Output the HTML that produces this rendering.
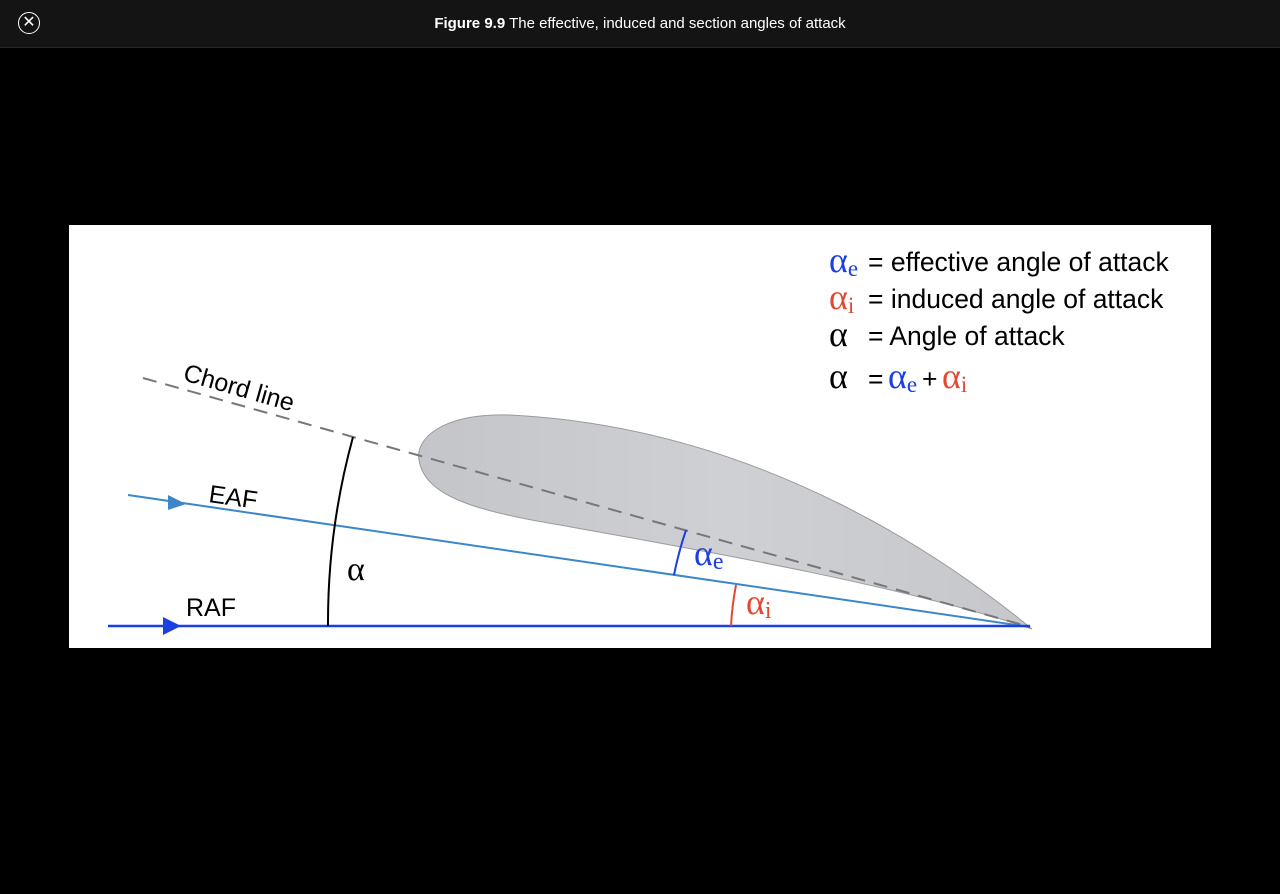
<!DOCTYPE html>
<html><head><meta charset="utf-8"><style>
body{margin:0;width:1280px;height:894px;background:#000;overflow:hidden;font-family:"Liberation Sans",sans-serif}
#bar{position:absolute;left:0;top:0;width:1280px;height:47px;background:#141414;border-bottom:1px solid #262626}
#title{position:absolute;left:0;width:1280px;top:15px;text-align:center;color:#fff;font-size:15px}
#close{position:absolute;left:18px;top:12px;width:20px;height:20px;border:1.5px solid #fff;border-radius:50%;color:#fff;font-size:16px;line-height:20px;text-align:center}
#fig{position:absolute;left:69px;top:225px}
</style></head><body>
<div id="bar">
<div id="close">✕</div>
<div id="title"><b>Figure 9.9</b> The effective, induced and section angles of attack</div>
</div>
<svg id="fig" width="1142" height="423" viewBox="69 225 1142 423">
<defs><linearGradient id="g" x1="0" x2="1"><stop offset="0" stop-color="#c4c5c9"/><stop offset="0.5" stop-color="#cfd0d4"/><stop offset="1" stop-color="#c6c7cb"/></linearGradient></defs>
<rect x="69" y="225" width="1142" height="423" fill="#fff"/>
<path d="M1032,629 C960,570 770,428 510,415 C440,413 415,440 419,460 C425,495 470,510 560,525 C700,550 900,585 1032,629 Z" fill="url(#g)" stroke="#9a9a9e" stroke-width="1"/>
<line x1="143" y1="378" x2="1030" y2="627" stroke="#777" stroke-width="2" stroke-dasharray="14,9"/>
<line x1="128" y1="495" x2="1030" y2="627" stroke="#3b87c8" stroke-width="2"/>
<polygon points="168,495 186,504 168,510" fill="#3b87c8"/>
<line x1="108" y1="626" x2="1030" y2="626" stroke="#1c3fe0" stroke-width="2.5"/>
<polygon points="163,617 181,626 163,635" fill="#1c3fe0"/>
<path d="M328,626 A702,702 0 0 1 353,437" fill="none" stroke="#000" stroke-width="2"/>
<path d="M674,575 A360,360 0 0 1 686,530" fill="none" stroke="#1c3fe0" stroke-width="2"/>
<path d="M731,626 A299,299 0 0 1 736,585" fill="none" stroke="#e04a35" stroke-width="2"/>
<g font-family="Liberation Sans,sans-serif" font-size="25">
<text x="182" y="380" transform="rotate(16 182 380)">Chord line</text>
<text x="208" y="502" transform="rotate(8 208 502)">EAF</text>
<text x="186" y="616">RAF</text>
<text x="347" y="580" font-family="Liberation Serif,serif" font-size="34">α</text>
<text x="694" y="565" fill="#1c3fe0" font-family="Liberation Serif,serif" font-size="36">α<tspan font-size="24" dy="4">e</tspan></text>
<text x="746" y="614" fill="#e04a35" font-family="Liberation Serif,serif" font-size="36">α<tspan font-size="24" dy="4">i</tspan></text>
</g>
<g font-family="Liberation Sans,sans-serif" font-size="26.5">
<text x="829" y="272" fill="#1c3fe0" font-family="Liberation Serif,serif" font-size="36">α<tspan font-size="23" dy="4">e</tspan></text>
<text x="868" y="271">= effective angle of attack</text>
<text x="829" y="309" fill="#e04a35" font-family="Liberation Serif,serif" font-size="36">α<tspan font-size="23" dy="4">i</tspan></text>
<text x="868" y="308">= induced angle of attack</text>
<text x="829" y="346" font-family="Liberation Serif,serif" font-size="36">α</text>
<text x="868" y="345">= Angle of attack</text>
<text x="829" y="388" font-family="Liberation Serif,serif" font-size="36">α</text>
<text x="868" y="388">=</text>
<text x="888" y="388" fill="#1c3fe0" font-family="Liberation Serif,serif" font-size="36">α<tspan font-size="23" dy="4">e</tspan></text>
<text x="922" y="388">+</text>
<text x="942" y="388" fill="#e04a35" font-family="Liberation Serif,serif" font-size="36">α<tspan font-size="23" dy="4">i</tspan></text>
</g>
</svg>
</body></html>
